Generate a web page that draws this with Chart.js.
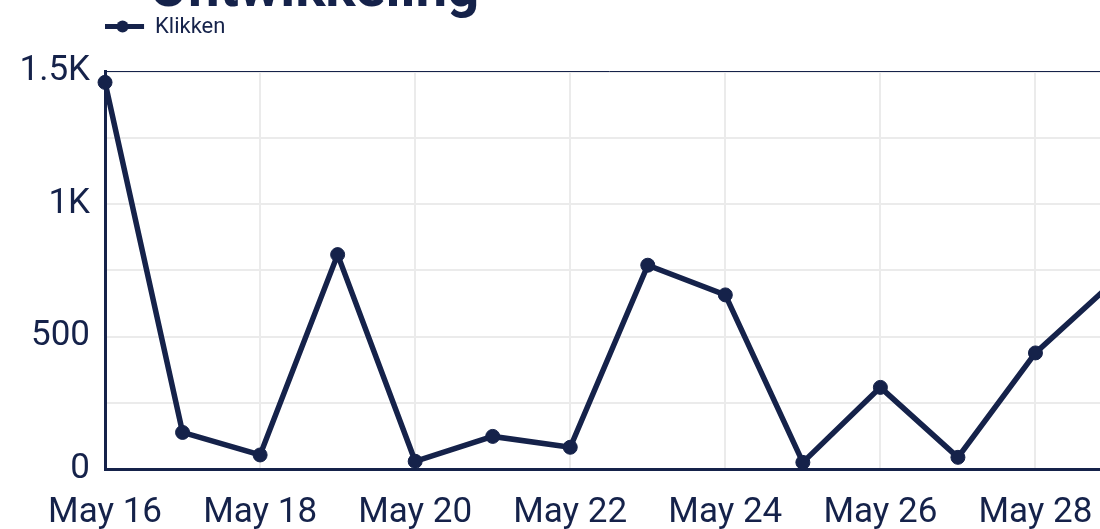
<!DOCTYPE html>
<html><head><meta charset="utf-8">
<script src="https://cdn.jsdelivr.net/npm/chart.js@4.4.0/dist/chart.umd.min.js"></script>
<style>
html,body{margin:0;padding:0;background:#fff;overflow:hidden;width:1100px;height:529px;position:relative;}
#title{position:absolute;left:149px;top:-41px;font-family:Roboto;font-weight:700;font-size:56.5px;line-height:56px;color:#15224a;white-space:nowrap;margin:0;}
#wrap{position:absolute;left:0;top:0;width:1121px;height:557px;}
</style></head><body>
<h1 id="title">Ontwikkeling</h1>
<div id="wrap"><canvas id="c"></canvas></div>
<script>
const categories = ['May 16','May 17','May 18','May 19','May 20','May 21','May 22','May 23','May 24','May 25','May 26','May 27','May 28','May 29'];
const clicks = [1459, 138, 53, 809, 29, 123, 82, 769, 657, 25, 308, 44, 438, 705];
const seriesName = 'Klikken';
const yTickValues = [0, 500, 1000, 1500];
const yTickLabels = ['0', '500', '1K', '1.5K'];

const NAVY = '#15224a';
const GRID = '#ebebeb';

// legend icon: a line with a dot in the middle
const icon = document.createElement('canvas');
icon.width = 57; icon.height = 14;
(function(){
  const g = icon.getContext('2d');
  g.fillStyle = NAVY;
  g.fillRect(0, 4, 45, 5);
  g.beginPath(); g.arc(23.5, 6.5, 6, 0, Math.PI * 2); g.fill();
})();

new Chart(document.getElementById('c'), {
  type: 'line',
  data: {
    labels: categories,
    datasets: [{
      label: seriesName,
      data: clicks,
      borderColor: NAVY,
      backgroundColor: NAVY,
      borderWidth: 5.5,
      pointRadius: 7,
      pointBorderWidth: 1,
      pointBackgroundColor: NAVY,
      pointBorderColor: NAVY,
      tension: 0,
      fill: false,
      clip: false
    }]
  },
  options: {
    responsive: true,
    maintainAspectRatio: false,
    animation: false,
    devicePixelRatio: 1,
    layout: { padding: { left: 4.5, top: 10, right: 0, bottom: 0 } },
    plugins: {
      title: { display: false },
      tooltip: { enabled: false },
      legend: {
        display: true,
        position: 'top',
        align: 'start',
        fullSize: false,
        labels: {
          usePointStyle: true,
          pointStyle: icon,
          pointStyleWidth: 33,
          padding: 6,
          color: NAVY,
          font: { family: 'Roboto', size: 22 }
        }
      }
    },
    scales: {
      x: {
        type: 'category',
        position: 'bottom',
        grid: { display: true, color: GRID, lineWidth: 2, drawTicks: false },
        border: { display: true, color: NAVY, width: 3 },
        ticks: {
          color: NAVY,
          font: { family: 'Roboto', size: 35, lineHeight: 1.2 },
          padding: 23,
          maxRotation: 0,
          autoSkip: true
        }
      },
      x2: {
        type: 'category',
        position: 'top',
        labels: categories,
        grid: { display: false, drawTicks: false },
        border: { display: true, color: NAVY, width: 1 },
        ticks: { display: false },
        title: { display: true, text: '', font: { size: 10, lineHeight: 1 }, padding: { top: 13.5, bottom: 0 } }
      },
      y: {
        min: 0,
        max: 1500,
        grid: { color: GRID, lineWidth: 2, drawTicks: false },
        border: { display: true, color: NAVY, width: 3 },
        ticks: {
          stepSize: 250,
          color: NAVY,
          padding: 15,
          font: { family: 'Roboto', size: 35, lineHeight: 1.35 },
          autoSkip: false,
          callback: function (v) {
            const i = yTickValues.indexOf(v);
            return i >= 0 ? yTickLabels[i] : '';
          }
        }
      }
    }
  }
});
</script>
</body></html>
